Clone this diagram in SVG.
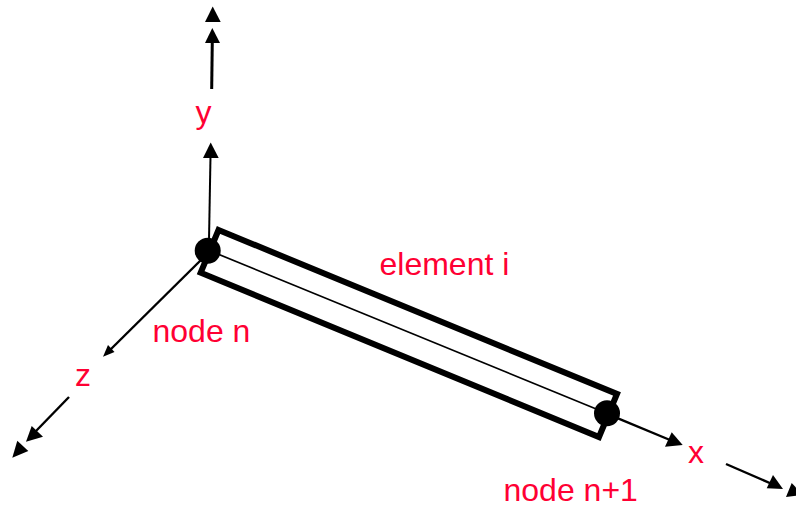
<svg xmlns="http://www.w3.org/2000/svg" width="796" height="508" viewBox="0 0 796 508">
<style>
.t{font-family:"Liberation Sans",Arial,sans-serif;font-size:32px;fill:#ff0033}
.l{stroke:#000;stroke-width:3;fill:none}
.m{stroke:#000;stroke-width:2.400;fill:none}
.h{fill:#000;stroke:none}
</style>
<rect width="796" height="508" fill="#fff"/>
<g id="connectors">
<line class="l" x1="211.700" y1="89" x2="212.300" y2="40"/>
<polygon class="h" points="212.300,28 220,43 205,43"/>
<polygon class="h" points="212.700,6.500 220.700,22 205,22"/>
<line class="l" x1="209" y1="240" x2="210.500" y2="156" style="stroke-width:2"/>
<polygon class="h" points="210.700,142.500 218.700,158 203,158"/>
<line class="m" x1="203" y1="258" x2="110" y2="350"/>
<polygon class="h" points="103,356.800 108,345 114.500,352"/>
<line class="m" x1="69" y1="397" x2="36" y2="431"/>
<polygon class="h" points="26,441.700 31.700,426 43,436.700"/>
<polygon class="h" points="12.300,457.700 17.300,440.700 28.300,451"/>
<line class="m" x1="618" y1="418.300" x2="670" y2="440"/>
<polygon class="h" points="682.700,445 665,446.700 671.700,432.300"/>
<line class="m" x1="726" y1="464" x2="772" y2="484"/>
<polygon class="h" points="783,489 766.700,488.300 773,475"/>
<polygon class="h" points="803,495 786,497 791.700,483"/>
</g>
<g id="element-i">
<polygon points="218.500,230 617,394 599,437 200.700,272.700" fill="none" stroke="#000" stroke-width="6"/>
<line x1="208" y1="250" x2="606" y2="413" stroke="#000" stroke-width="1.700"/>
<text class="t" x="379.500" y="274.500">element i</text>
</g>
<g id="node-n">
<circle cx="207.700" cy="250.700" r="13"/>
<text class="t" x="152.500" y="342">node n</text>
</g>
<g id="node-n1">
<circle cx="607" cy="413.300" r="13"/>
<text class="t" x="503.500" y="501">node n+1</text>
</g>
<g id="axis-y"><text class="t" x="195.500" y="122.500">y</text></g>
<g id="axis-z"><text class="t" x="75" y="385.500">z</text></g>
<g id="axis-x"><text class="t" x="688" y="462.500">x</text></g>
</svg>
